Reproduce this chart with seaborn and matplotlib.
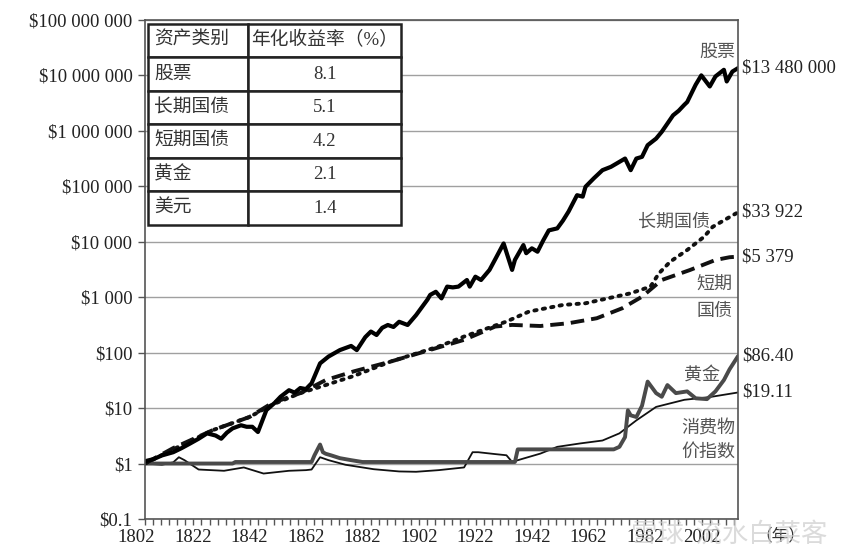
import numpy as np
import pandas as pd
import seaborn as sns
import matplotlib.pyplot as plt
from matplotlib.ticker import FixedLocator, FuncFormatter, NullLocator
from matplotlib.transforms import ScaledTranslation

# values (1 dollar invested in 1802)
stock_years = [1802, 1805, 1808, 1812, 1815, 1818, 1821, 1824, 1827, 1829, 1831, 1833, 1836,
               1838, 1840, 1842, 1845, 1848, 1850, 1853, 1855, 1857, 1859, 1861, 1864, 1867,
               1871, 1875, 1877, 1880, 1882, 1884, 1886, 1888, 1890, 1892, 1895, 1898, 1902,
               1903, 1905, 1907, 1909, 1911, 1913, 1916, 1917, 1919, 1921, 1924, 1926, 1929,
               1932, 1933, 1936, 1937, 1939, 1941, 1943, 1945, 1948, 1950, 1952, 1955, 1957,
               1958, 1961, 1964, 1967, 1969, 1972, 1974, 1976, 1978, 1980, 1983, 1985, 1987,
               1989, 1991, 1993, 1994, 1997, 1999, 2002, 2004, 2007, 2008, 2010, 2012]
stock_vals = [1.1, 1.2, 1.4, 1.6, 1.9, 2.3, 2.8, 3.5, 3.2, 2.8, 3.6, 4.3, 4.9,
              4.6, 4.6, 3.7, 9.2, 12.5, 16, 21, 19, 23, 22, 28, 64, 85,
              111, 132, 111, 190, 240, 208, 280, 315, 290, 360, 315, 475, 900,
              1100, 1250, 950, 1550, 1500, 1550, 2040, 1550, 2340, 2040, 3100, 4800, 9300,
              3100, 4700, 8700, 6200, 7600, 6600, 10500, 16000, 17400, 24000, 35000, 69000, 65000,
              98000, 140000, 195000, 224000, 257000, 316000, 195000, 316000, 339000, 550000, 724000, 960000, 1350000,
              1900000, 2300000, 2950000, 3300000, 6760000, 10000000, 6300000, 9550000, 12600000, 7760000, 11700000, 13480000]

lbond_years = [1802, 1812, 1826, 1839, 1847, 1857, 1866, 1876, 1889, 1906, 1915, 1930, 1938,
               1950, 1958, 1966, 1974, 1981, 1984, 1988, 1994, 2000, 2003, 2008, 2012]
lbond_vals = [1.0, 1.8, 4.0, 6.9, 11.5, 18.6, 26, 38, 69, 129, 195, 363, 550,
              724, 776, 955, 1175, 1550, 2690, 4365, 7080, 12300, 18500, 26000, 33922]

sbond_years = [1802, 1812, 1826, 1839, 1847, 1857, 1866, 1876, 1889, 1903, 1915, 1926, 1932,
               1942, 1952, 1962, 1971, 1978, 1985, 1995, 2004, 2009, 2012]
sbond_vals = [1.0, 1.9, 4.0, 6.9, 12.3, 18.6, 32, 46, 69, 112, 170, 295, 316,
              302, 339, 417, 631, 1020, 2040, 3090, 4680, 5250, 5379]

gold_years = [1802, 1833, 1834, 1861, 1862, 1864, 1865, 1866, 1868, 1871, 1875, 1879, 1933,
              1934, 1968, 1970, 1972, 1973, 1974, 1976, 1978, 1980, 1983, 1985, 1987, 1990,
              1994, 1997, 2001, 2004, 2007, 2009, 2012]
gold_vals = [1.0, 1.0, 1.066, 1.066, 1.4, 2.2, 1.6, 1.5, 1.4, 1.25, 1.15, 1.066, 1.066,
             1.8, 1.8, 2.0, 3.0, 9.1, 7.4, 6.9, 11, 30, 18.6, 16, 26, 18.6,
             20, 15, 14.5, 20, 32, 50, 86.40]

cpi_years = [1802, 1808, 1812, 1814, 1816, 1821, 1830, 1837, 1844, 1853, 1859, 1861, 1864,
             1867, 1873, 1883, 1892, 1898, 1906, 1915, 1918, 1920, 1926, 1930, 1932, 1936,
             1942, 1948, 1956, 1964, 1970, 1976, 1983, 1993, 2002, 2012]
cpi_vals = [1.0, 0.95, 1.05, 1.3, 1.15, 0.78, 0.74, 0.85, 0.66, 0.74, 0.76, 0.78, 1.3,
            1.15, 0.95, 0.79, 0.72, 0.71, 0.76, 0.85, 1.6, 1.6, 1.48, 1.41, 1.07, 1.23,
            1.51, 2.0, 2.3, 2.6, 3.5, 6.0, 10.5, 14.1, 15.8, 19.11]

table_header = ['资产类别', '年化收益率（%）']
table_assets = ['股票', '长期国债', '短期国债', '黄金', '美元']
table_returns = ['8.1', '5.1', '4.2', '2.1', '1.4']

end_labels = ['$13 480 000', '$33 922', '$5 379', '$86.40', '$19.11']

sns.set_theme(style='white')
plt.rcParams['font.family'] = ['Liberation Serif', 'Noto Sans CJK SC', 'DejaVu Sans']
cjk = ['Noto Sans CJK SC', 'DejaVu Sans']

fig = plt.figure(figsize=(8.65, 5.54), dpi=100)
ax = fig.add_axes([0.1676, 0.0632, 0.6856, 0.9009])

for y in 10.0 ** np.arange(-1, 9):
    ax.axhline(y, color='#a0a0a0', lw=1.0, zorder=0)

sns.lineplot(x=cpi_years, y=cpi_vals, ax=ax, color='#111111', lw=1.3)
sns.lineplot(x=gold_years, y=gold_vals, ax=ax, color='#4a4a4a', lw=2.8)
sns.lineplot(x=sbond_years, y=sbond_vals, ax=ax, color='#111111', lw=2.8,
             linestyle=(0, (3.5, 1.8)))
sns.lineplot(x=lbond_years, y=lbond_vals, ax=ax, color='#111111', lw=2.8,
             linestyle=(0, (0.6, 1.6)), dash_capstyle='round')
sns.lineplot(x=stock_years, y=stock_vals, ax=ax, color='#000000', lw=3.0)

ax.set_yscale('log')
ax.set_ylim(0.1, 1e8)
ax.set_xlim(1802, 2012)
ax.set_xlabel('')
ax.set_ylabel('')

ax.yaxis.set_major_locator(FixedLocator(10.0 ** np.arange(-1, 9)))
ax.yaxis.set_minor_locator(NullLocator())
ax.yaxis.set_major_formatter(FuncFormatter(
    lambda v, p: '$0.1' if v < 1 else '$' + f'{v:,.0f}'.replace(',', ' ')))
ax.xaxis.set_major_locator(FixedLocator(np.arange(1802, 2003, 20)))
ax.xaxis.set_minor_locator(FixedLocator(np.arange(1802, 2013, 20 / 7)))
ax.tick_params(axis='y', which='major', left=True, length=5, width=1, color='#555555',
               labelsize=13.5, pad=4, labelcolor='#222222')
ax.tick_params(axis='x', which='both', bottom=True, length=4, width=1, color='#555555',
               labelsize=13.5, pad=3, labelcolor='#222222')
shift = ScaledTranslation(-6 / 72, 0, fig.dpi_scale_trans)
for lab in ax.get_xticklabels():
    lab.set_transform(lab.get_transform() + shift)

for s in ax.spines.values():
    s.set_color('#555555')
    s.set_linewidth(1.2)

# end values
for yv, txt in zip([stock_vals[-1], lbond_vals[-1], sbond_vals[-1], gold_vals[-1], cpi_vals[-1]],
                   end_labels):
    ax.annotate(txt, xy=(2012, yv), xytext=(3, 0), textcoords='offset points',
                ha='left', va='center', fontsize=13.5, color='#222222', annotation_clip=False)

# series names
lab_kw = dict(transform=ax.transAxes, fontsize=13, color='#555555', family=cjk, va='center')
ax.text(0.995, 0.936, '股票', ha='right', **lab_kw)
ax.text(0.953, 0.595, '长期国债', ha='right', **lab_kw)
ax.text(0.99, 0.469, '短期', ha='right', **lab_kw)
ax.text(0.99, 0.417, '国债', ha='right', **lab_kw)
ax.text(0.970, 0.2885, '黄金', ha='right', **lab_kw)
ax.text(0.995, 0.182, '消费物', ha='right', **lab_kw)
ax.text(0.995, 0.134, '价指数', ha='right', **lab_kw)
ax.text(1.03, -0.033, '（年）', transform=ax.transAxes, fontsize=12, color='#333333',
        family=cjk, ha='left', va='center')

# return table
rows = [[a, r] for a, r in zip(table_assets, table_returns)]
tab = ax.table(cellText=rows, colLabels=table_header, colWidths=[0.169, 0.258],
               cellLoc='center', bbox=[0.005, 0.589, 0.427, 0.403], zorder=5)
tab.auto_set_font_size(False)
tab.set_fontsize(13.5)
for (r, c), cell in tab.get_celld().items():
    cell.set_edgecolor('#222222')
    cell.set_linewidth(1.8)
    cell.set_facecolor('white')
    txt = cell.get_text()
    txt.set_color('#333333')
    txt.set_fontfamily(['Liberation Serif', 'Noto Sans CJK SC'])
    if c == 0:
        cell.PAD = 0.06
        txt.set_horizontalalignment('left')

# faint watermark
fig.text(0.73, 0.035, '雪球  流水白菜客', fontsize=19, color='#cccccc', alpha=0.7,
         family=cjk, ha='left', va='center')

fig.savefig('out.png', dpi=100)
